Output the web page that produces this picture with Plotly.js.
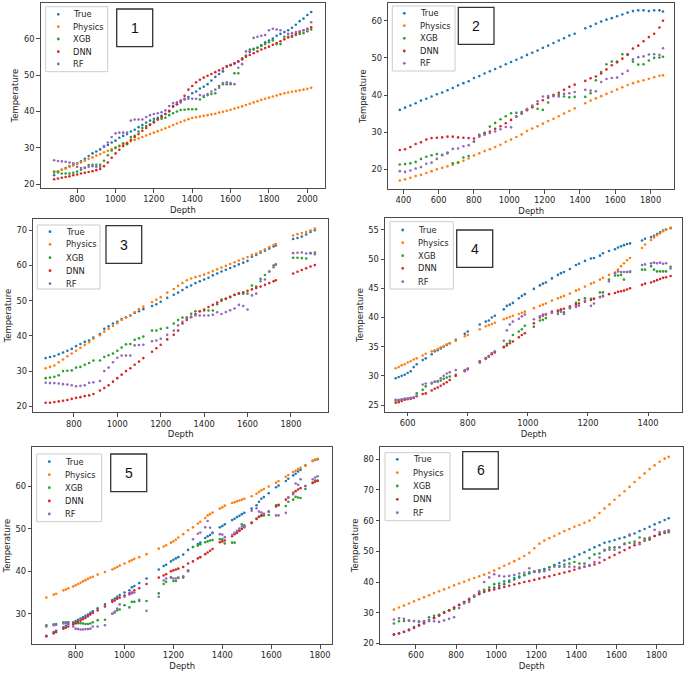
<!DOCTYPE html>
<html><head><meta charset="utf-8">
<script src="https://cdn.plot.ly/plotly-3.0.1.min.js"></script>
<style>body{margin:0;padding:0;background:#fff}</style>
</head><body><div id="chart" style="width:685px;height:674px"></div>
<script>
const seriesNames = ['True','Physics','XGB','DNN','RF'];
const seriesColors = ['#1f77b4','#ff7f0e','#2ca02c','#d62728','#9467bd'];
const panelLabels = ['1','2','3','4','5','6'];
const xTitle = 'Depth';
const yTitle = 'Temperature';

// ---------- Panel 1 ----------
const depth1 = [680,700,720,740,760,780,800,820,840,860,880,900,920,940,960,980,1000,1020,1040,1060,1080,1100,1120,1140,1160,1180,1200,1220,1240,1260,1280,1300,1320,1340,1360,1380,1400,1420,1440,1460,1480,1500,1520,1540,1560,1580,1600,1620,1640,1660,1680,1700,1720,1740,1760,1780,1800,1820,1840,1860,1880,1900,1920,1940,1960,1980,2000,2020];
const true1 = [22.5,23.5,24.0,24.5,25.0,25.3,25.8,26.3,27.0,27.8,28.5,29.0,29.6,30.3,30.8,31.5,32.0,32.8,33.3,33.8,34.5,35.0,35.7,36.3,37.0,37.5,38.0,38.3,38.8,39.3,40.0,41.5,42.0,42.7,43.3,44.0,45.0,45.5,46.3,46.8,47.5,48.5,49.5,50.3,51.0,52.5,52.8,53.2,53.8,54.5,55.3,56.3,57.0,57.5,58.2,59.0,59.5,60.0,60.8,61.3,61.8,62.3,63.0,63.8,64.8,65.5,66.5,67.3];
const physics1 = [23.2,23.6,24.0,24.3,24.8,25.2,25.6,26.0,26.5,27.0,27.4,27.9,28.3,28.8,29.2,29.7,30.2,30.6,31.0,31.4,31.8,32.2,32.6,33.0,33.4,33.8,34.2,34.6,35.0,35.4,35.8,36.3,36.7,37.1,37.5,37.9,38.2,38.4,38.6,38.8,39.0,39.2,39.4,39.7,39.9,40.2,40.5,40.8,41.1,41.4,41.8,42.1,42.5,42.8,43.2,43.5,43.8,44.1,44.4,44.7,45.0,45.2,45.4,45.6,45.8,46.0,46.2,46.5];
const xgb1 = [23.5,23.3,23.0,23.0,23.0,23.2,23.5,24.0,24.5,25.3,25.4,25.4,25.4,26.5,28.0,29.3,30.0,30.5,31.3,31.0,33.0,33.3,34.5,35.5,36.0,36.5,37.3,37.8,38.0,38.3,39.0,39.5,40.0,40.4,40.5,40.6,40.6,40.6,43.3,44.0,44.5,44.8,45.0,47.0,47.5,47.5,47.5,50.5,50.5,54.5,55.3,57.0,57.2,57.5,58.0,58.5,59.0,59.5,58.5,58.5,60.5,60.5,60.5,61.0,61.3,61.5,62.0,62.5];
const dnn1 = [21.4,21.6,21.8,22.0,22.2,22.5,22.7,23.0,23.2,23.4,23.6,23.9,24.2,25.0,26.0,27.3,28.5,29.5,30.5,31.3,32.2,33.0,33.8,34.7,35.5,36.3,37.0,37.8,38.5,39.3,40.2,41.3,42.0,43.0,44.3,46.0,47.0,48.0,48.7,49.3,49.8,50.3,50.8,51.3,51.8,52.3,52.7,53.2,53.7,54.3,55.0,55.5,56.0,56.5,57.0,57.4,57.8,58.3,58.8,59.3,59.8,60.3,60.8,61.3,61.8,62.3,62.7,63.1];
const rf1 = [26.6,26.4,26.3,26.2,26.0,25.8,24.8,24.5,24.6,24.8,25.0,24.8,24.8,30.5,31.5,33.0,34.0,34.2,34.2,34.2,37.5,37.8,37.8,37.8,38.5,39.0,39.3,39.5,39.8,40.3,41.5,42.3,42.5,42.5,43.5,43.5,43.5,43.5,44.5,44.3,44.8,45.5,46.0,46.5,47.8,48.0,47.8,47.5,52.0,53.0,56.5,56.5,60.2,60.5,60.8,61.0,62.3,62.7,62.5,62.3,61.8,61.3,61.5,61.8,62.0,62.3,62.5,64.5];

// ---------- Panel 2 ----------
const depth2 = [380,410,440,470,500,530,560,590,620,650,680,710,740,770,800,830,860,890,920,950,980,1010,1040,1070,1100,1130,1160,1190,1220,1250,1280,1310,1340,1370,1400,1430,1460,1490,1520,1550,1580,1610,1640,1670,1700,1730,1760,1790,1820,1850,1870];
const true2 = [36.0,36.6,37.2,37.8,38.5,39.0,39.6,40.2,40.7,41.3,41.9,42.6,43.2,43.7,44.6,45.1,45.8,46.4,47.0,47.6,48.3,48.9,49.5,50.1,50.8,51.4,52.0,52.7,53.3,54.0,54.7,55.3,56.0,56.5,null,58.0,58.5,59.2,59.8,60.3,60.7,61.2,61.7,62.2,62.6,62.8,62.8,62.6,62.8,62.8,62.5];
const physics2 = [17.0,17.3,17.7,18.2,18.5,19.0,19.5,20.0,20.4,20.8,21.2,21.7,22.3,22.9,23.7,24.3,24.9,25.4,26.0,26.6,27.4,28.0,28.7,29.4,30.3,31.0,31.6,32.3,33.0,33.6,34.3,35.0,35.7,36.4,null,37.8,38.5,39.1,39.7,40.3,40.9,41.5,42.1,42.7,43.2,43.6,44.0,44.4,44.8,45.2,45.3];
const xgb2 = [21.3,21.4,21.6,22.0,22.8,23.4,23.8,24.1,23.9,24.3,21.6,21.9,23.2,23.6,27.5,29.3,29.8,31.5,32.5,33.5,34.3,35.1,35.2,35.4,36.2,36.7,36.3,36.0,38.0,40.0,40.0,39.6,39.4,39.5,null,39.5,40.5,44.0,46.2,48.3,49.0,49.0,51.0,50.8,49.0,48.2,48.3,49.3,50.0,50.1,50.3];
const dnn2 = [25.2,25.4,26.0,26.8,27.3,28.0,28.4,28.5,28.6,28.8,28.8,28.6,28.5,28.4,28.3,29.0,29.6,30.2,30.9,31.6,32.4,33.3,34.2,35.0,35.9,36.8,37.6,38.6,39.3,40.0,40.6,41.4,42.2,42.8,null,43.8,44.5,45.0,45.8,46.9,48.0,48.8,49.8,51.0,52.5,53.3,54.5,55.6,56.5,58.2,60.0];
const rf2 = [19.5,19.3,19.7,20.2,20.6,21.5,21.8,22.8,23.8,24.5,25.5,25.6,26.2,26.5,27.5,28.8,29.3,29.8,30.2,30.8,31.4,31.3,34.2,35.0,36.2,37.2,38.3,39.6,39.7,39.7,39.6,40.3,40.5,40.8,null,41.4,41.2,41.0,43.5,44.3,44.6,44.7,45.7,46.5,49.6,50.2,50.4,50.9,51.0,50.8,52.6];

// ---------- Panel 3 ----------
const depth3 = [670,690,710,730,750,770,790,810,830,850,870,890,920,940,960,980,1000,1020,1040,1060,1080,1100,1120,1160,1180,1200,1230,1260,1280,1300,1320,1340,1360,1380,1400,1420,1440,1460,1480,1500,1520,1540,1560,1580,1600,1620,1640,1660,1680,1700,1720,1730,1810,1830,1850,1870,1890,1910];
const true3 = [33.7,34.0,34.3,34.8,35.3,35.8,36.3,37.1,37.7,38.3,38.7,39.5,40.5,42.0,42.7,43.5,44.0,44.8,45.3,45.8,46.5,47.0,47.6,48.5,49.0,49.7,50.8,51.7,52.3,53.0,53.8,54.3,55.0,55.5,56.0,56.5,57.2,57.7,58.3,58.8,59.3,59.8,60.3,60.8,61.3,62.5,63.0,63.6,64.2,64.8,65.4,65.7,67.5,67.8,68.2,68.8,69.5,70.0];
const physics3 = [30.8,31.2,31.6,32.5,33.3,34.2,35.0,35.8,36.6,37.4,38.2,39.2,40.2,41.2,42.0,42.8,43.6,44.5,45.2,45.8,46.8,47.6,48.3,49.6,50.3,51.0,52.3,53.3,54.2,55.0,55.8,56.3,56.7,57.0,57.4,57.9,58.4,58.9,59.4,59.9,60.4,60.9,61.4,61.9,62.4,63.0,63.4,64.0,64.6,65.2,65.8,66.1,68.5,68.9,69.2,69.5,70.0,70.5];
const xgb3 = [28.0,28.2,28.4,28.8,30.0,30.1,30.2,31.0,31.2,31.8,32.3,33.0,33.0,34.0,34.5,35.0,35.8,36.7,37.6,37.7,38.9,39.3,39.8,41.5,41.5,42.0,42.3,43.5,44.5,45.2,45.3,46.3,47.0,47.0,47.2,47.2,47.2,49.0,50.3,50.5,51.0,51.7,52.0,52.0,52.0,54.3,54.0,56.2,57.3,58.3,60.0,60.3,62.2,62.2,62.1,62.0,63.5,63.7];
const dnn3 = [21.0,21.0,21.2,21.4,21.6,21.8,22.1,22.4,22.6,22.9,23.1,23.5,24.5,25.2,26.0,27.0,28.0,29.0,30.0,30.8,31.8,32.7,33.7,35.5,36.5,37.5,39.0,40.3,41.5,43.5,44.5,45.3,46.2,47.0,47.5,48.2,48.8,49.5,50.0,50.6,51.1,51.6,52.1,52.4,52.8,53.2,53.6,54.0,54.5,55.0,55.5,55.8,57.7,58.2,58.7,59.2,59.7,60.1];
const rf3 = [26.7,26.6,26.6,26.5,26.3,26.2,26.0,25.7,25.8,26.0,26.7,26.8,27.2,30.0,31.0,32.5,33.8,34.4,34.4,34.4,37.3,37.4,37.5,38.5,38.7,39.2,40.3,41.5,43.0,44.0,45.0,45.5,45.8,45.8,45.8,45.8,46.0,46.7,46.2,46.8,47.3,47.8,48.8,48.5,47.5,51.5,52.0,55.5,56.0,58.3,59.5,60.2,63.5,63.6,63.7,63.4,63.5,63.2];

// ---------- Panel 4 ----------
const depth4 = [560,570,580,590,600,610,620,630,650,660,680,690,700,710,720,730,740,760,790,800,840,860,870,880,890,920,930,940,950,970,980,990,1020,1040,1050,1060,1080,1100,1110,1120,1140,1160,1170,1190,1210,1220,1240,1250,1270,1290,1300,1310,1320,1330,1340,1380,1390,1410,1420,1430,1440,1450,1460,1475];
const true4 = [29.6,29.8,30.0,30.2,30.5,30.8,31.5,32.0,32.7,33.0,33.7,34.2,34.4,34.7,35.0,35.3,35.6,36.2,37.2,37.6,38.8,39.3,39.5,40.0,40.3,41.4,42.0,42.2,42.5,43.3,43.7,44.0,44.9,45.5,45.8,46.0,46.7,47.3,47.6,47.8,48.3,49.0,49.2,49.7,50.1,50.2,50.6,51.0,51.4,51.7,52.0,52.2,52.4,52.6,52.7,53.2,53.5,53.8,54.0,54.3,54.6,54.9,55.1,55.3];
const physics4 = [31.3,31.5,31.8,32.0,32.3,32.5,32.8,33.0,33.5,33.8,34.2,34.4,34.6,34.9,35.1,35.4,35.6,36.0,36.8,37.0,38.0,38.5,38.7,38.9,39.1,39.7,39.9,40.1,40.3,40.6,40.8,41.0,41.6,42.0,42.2,42.4,42.9,43.3,43.5,43.7,44.1,44.6,44.8,45.3,45.8,46.0,46.5,46.8,47.3,47.7,48.2,48.8,49.3,49.8,50.2,51.9,52.5,53.3,53.7,54.1,54.4,54.8,55.1,55.4];
const xgb4 = [25.8,25.8,25.9,26.0,26.1,26.2,26.3,27.0,27.6,28.2,28.7,29.0,29.0,29.2,29.5,29.7,29.9,30.2,31.0,31.2,32.3,33.0,33.4,33.8,34.1,35.0,35.5,36.0,37.0,37.6,38.0,38.6,38.4,39.5,39.6,39.9,40.8,41.0,41.2,40.9,41.6,42.5,43.0,43.3,43.2,43.2,44.3,44.3,46.5,47.2,47.2,47.3,46.5,47.8,47.8,48.2,48.2,48.8,48.2,47.9,47.9,47.9,47.9,48.7];
const dnn4 = [25.4,25.5,25.7,25.9,26.0,26.1,26.2,26.5,26.9,27.0,27.5,27.8,28.0,28.3,28.6,28.9,29.3,30.0,30.8,31.2,32.5,33.0,33.3,33.7,34.0,34.9,35.2,35.6,35.9,36.6,37.0,37.3,39.0,40.0,40.3,40.5,41.0,41.2,41.4,41.5,41.9,42.2,42.4,42.7,43.0,43.2,43.5,43.7,44.0,44.2,44.4,44.5,44.6,44.8,45.0,45.6,45.8,46.0,46.2,46.4,46.6,46.8,46.9,47.1];
const rf4 = [25.9,25.9,26.0,26.1,26.1,26.2,26.3,26.6,28.5,28.7,28.8,29.0,29.1,29.6,30.0,30.4,30.6,31.0,30.9,31.1,32.3,32.9,33.3,33.9,34.2,36.0,37.8,38.8,39.3,39.8,40.2,40.5,39.7,40.2,40.5,40.6,40.8,40.6,41.0,40.6,41.7,41.8,42.0,42.9,42.0,42.4,43.5,43.6,46.2,47.6,47.9,47.8,47.8,47.8,47.9,49.0,49.1,49.3,49.4,49.3,49.4,49.2,49.3,48.4];

// ---------- Panel 5 ----------
const depth5 = [680,710,720,750,760,770,790,800,810,820,830,840,850,860,870,890,920,950,960,970,980,1000,1020,1030,1040,1060,1090,1140,1160,1170,1190,1200,1210,1220,1240,1260,1280,1300,1310,1330,1340,1350,1360,1390,1400,1410,1440,1450,1460,1470,1480,1490,1520,1540,1550,1560,1570,1590,1620,1630,1660,1670,1690,1700,1710,1720,1740,1770,1780,1790];
const true5 = [24.8,25.7,26.0,26.8,27.2,27.6,28.0,28.3,28.6,28.9,29.2,29.5,29.8,30.2,30.6,31.3,32.2,33.2,33.6,34.0,34.4,35.0,35.5,36.2,36.5,37.2,38.3,40.4,41.2,41.5,42.3,42.7,43.0,43.3,43.9,45.0,45.7,46.4,46.7,47.8,48.2,48.5,49.0,50.3,50.6,51.0,52.0,52.3,52.7,53.0,53.4,53.7,54.7,55.5,56.3,57.0,57.4,58.3,59.7,60.1,61.2,61.7,62.5,62.9,63.4,63.8,64.8,65.9,66.1,66.3];
const physics5 = [33.8,34.5,34.7,35.5,35.7,36.0,36.4,36.7,37.0,37.3,37.6,37.9,38.2,38.5,38.7,39.2,39.8,40.4,40.7,41.0,41.3,41.8,42.3,42.6,42.9,43.3,44.0,45.3,45.8,46.1,46.7,47.0,47.4,47.9,48.7,49.6,50.3,51.2,51.6,52.5,53.1,53.4,53.8,54.7,55.0,55.4,56.0,56.2,56.4,56.6,56.8,57.0,57.6,58.2,58.6,59.0,59.3,59.9,60.8,61.2,62.2,62.6,63.3,63.6,64.0,64.3,64.9,65.9,66.2,66.4];
const xgb5 = [27.3,27.5,27.6,28.0,28.0,28.0,27.8,27.8,27.8,27.8,27.7,27.6,27.6,27.7,28.0,28.5,28.6,30.0,30.3,30.8,31.0,32.0,31.5,32.8,32.8,33.0,33.0,34.8,37.0,37.5,38.5,37.7,37.7,38.5,38.5,40.0,45.7,46.0,46.3,46.8,47.0,47.2,47.3,47.5,47.5,46.5,46.7,46.7,49.0,49.5,51.0,50.8,51.3,52.3,52.8,53.0,53.1,53.2,55.5,55.5,55.3,56.3,56.8,57.5,57.3,57.2,59.3,60.8,61.3,61.3];
const dnn5 = [24.7,25.4,25.7,26.5,26.7,27.0,27.5,27.8,28.1,28.4,28.7,29.0,29.4,29.8,30.2,30.8,31.7,32.8,33.1,33.5,33.8,34.3,34.8,35.0,35.5,36.0,37.0,38.5,39.0,39.3,40.0,40.2,40.4,40.6,41.0,41.8,42.3,43.0,43.3,44.0,44.4,44.8,45.2,46.8,47.0,47.2,48.2,48.7,49.1,49.5,49.9,50.3,51.4,52.3,52.8,53.1,53.4,54.0,55.2,55.6,56.8,57.3,58.4,58.8,59.2,59.5,60.0,60.7,61.0,61.2];
const rf5 = [27.0,27.3,27.4,27.7,27.8,28.0,27.0,26.5,26.4,26.3,26.3,26.4,26.4,26.5,27.0,27.0,27.3,30.0,30.5,31.2,32.2,34.0,34.5,34.8,35.0,33.3,30.7,34.0,37.8,38.3,38.6,38.3,38.3,38.4,38.8,40.2,47.5,48.8,49.1,50.3,51.8,50.2,49.0,48.7,48.6,48.0,48.5,49.0,49.5,50.0,50.5,50.5,54.2,54.8,54.0,53.8,53.5,54.0,53.1,53.1,53.7,57.3,58.1,60.6,60.3,61.6,60.0,61.6,62.0,62.3];

// ---------- Panel 6 ----------
const depth6 = [490,515,540,565,590,615,640,665,690,715,740,765,790,815,840,865,890,915,940,965,990,1015,1040,1065,1090,1115,1140,1165,1190,1215,1240,1265,1290,1315,1340,1365,1390,1415,1440,1465,1490,1515,1540,1565,1590,1615,1640,1665,1690,1715,1740,1765,1790,1815,1840,1860];
const true6 = [22.8,23.3,23.8,24.5,25.3,26.0,26.8,27.6,28.4,29.2,30.0,30.8,31.6,32.5,33.4,34.3,35.2,36.0,36.8,37.5,38.2,38.8,39.3,40.0,40.8,41.5,42.2,42.8,43.3,43.8,44.2,44.8,45.5,46.2,47.0,47.5,48.2,49.0,49.7,50.5,51.3,52.0,52.8,53.2,53.7,54.2,54.6,55.2,55.8,56.6,57.3,58.0,58.8,59.5,60.2,60.8];
const physics6 = [31.0,31.7,32.3,33.0,33.7,34.4,35.0,35.7,36.4,37.0,37.6,38.2,38.9,39.5,40.1,40.7,41.3,41.9,42.4,43.0,43.7,44.5,45.3,46.0,46.8,47.6,48.5,49.5,51.0,52.5,53.5,54.3,55.0,55.8,56.6,57.3,58.0,58.6,59.3,60.0,61.0,62.5,64.0,65.3,66.8,68.2,69.6,71.0,72.6,74.0,75.4,76.8,78.0,79.2,80.2,80.8];
const xgb6 = [26.5,27.2,27.3,27.4,27.3,27.0,27.3,28.5,29.0,29.3,30.2,30.7,31.2,32.5,33.5,34.0,35.3,36.5,37.5,38.2,39.3,39.5,40.2,40.5,41.3,41.8,42.3,43.2,43.5,43.7,44.0,44.8,45.5,45.0,45.7,46.0,46.5,46.0,46.0,47.8,49.0,49.3,50.5,51.2,51.3,51.3,52.5,52.8,53.2,54.5,54.2,53.8,55.0,55.5,56.0,56.2];
const dnn6 = [23.0,23.2,23.7,24.3,25.0,25.8,26.5,27.3,28.2,29.0,30.0,30.8,31.7,32.6,33.5,34.5,35.5,36.3,36.8,37.2,37.6,38.0,38.4,38.8,39.2,39.6,40.0,40.3,40.7,41.1,41.5,41.9,42.3,42.7,43.1,43.5,44.0,44.5,45.0,45.3,45.7,46.3,47.2,48.0,48.8,49.6,50.4,51.2,52.0,52.8,53.5,54.2,55.0,55.6,56.2,56.8];
const rf6 = [27.8,28.2,28.0,27.5,27.3,27.2,27.2,27.3,27.2,27.0,27.5,28.0,28.5,31.5,33.0,33.5,35.5,37.0,40.0,41.5,42.5,42.0,41.8,42.0,42.3,42.8,43.0,44.5,43.5,43.3,43.5,44.0,45.0,45.2,45.0,45.0,45.0,44.8,45.0,45.5,46.5,48.0,50.2,50.5,50.5,51.3,52.3,55.5,52.5,52.3,53.5,54.5,57.0,56.3,56.5,56.8];

const panelData = [
  {depth: depth1, series: [true1, physics1, xgb1, dnn1, rf1]},
  {depth: depth2, series: [true2, physics2, xgb2, dnn2, rf2]},
  {depth: depth3, series: [true3, physics3, xgb3, dnn3, rf3]},
  {depth: depth4, series: [true4, physics4, xgb4, dnn4, rf4]},
  {depth: depth5, series: [true5, physics5, xgb5, dnn5, rf5]},
  {depth: depth6, series: [true6, physics6, xgb6, dnn6, rf6]}
];

// ---------- Layout geometry (pixels) ----------
const W = 685, H = 674;
const axesGeom = [
  {x:[40.7,325],  y:[3.3,188],   xr:[610,2092],  yr:[19.0,69.7], xd:200, x0:800, yd:10, y0:20},
  {x:[388.3,674.3], y:[3.3,189], xr:[315,1934],  yr:[14.7,64.7], xd:200, x0:400, yd:10, y0:20},
  {x:[33.3,328.3], y:[219,412.3], xr:[613,1972], yr:[18.3,73.2], xd:200, x0:800, yd:10, y0:20},
  {x:[385,682.3], y:[218.3,411.7], xr:[524.5,1514], yr:[23.86,57.0], xd:200, x0:600, yd:5, y0:25},
  {x:[32.3,332.3], y:[447.3,644], xr:[622.6,1850], yr:[22.9,69.1], xd:200, x0:800, yd:10, y0:30},
  {x:[380,683.3], y:[446.7,644], xr:[420.5,1933], yr:[19.8,84.1], xd:200, x0:600, yd:10, y0:20}
];
const legendGeom = [
  {box:[45.7,6.7,107.7,71.7], mx:58.3, tx:73.3, rows:[14.3,26.7,39,51.7,64]},
  {box:[392.3,6,455,71], mx:404.3, tx:420, rows:[13.3,25.7,38.3,51,63.3]},
  {box:[37.3,225,100,289], mx:50, tx:65.7, rows:[231.7,244.3,257.7,270.7,283.7]},
  {box:[390,221.7,453.3,289], mx:402.7, tx:418.3, rows:[230,242.7,255.7,268.3,281.7]},
  {box:[36.7,454,101.7,521.7], mx:49.3, tx:65, rows:[461.7,474.7,487.7,501,514]},
  {box:[385,452.7,450,520.7], mx:397.3, tx:413.3, rows:[459.3,472.7,486,499.3,512.7]}
];
const numBoxGeom = [
  [116.7,9,152.7,46.7],
  [458.3,7.3,494,44.3],
  [106,225.7,141.7,263.3],
  [456.7,230,492.7,267.3],
  [110.7,454,146.7,491.7],
  [462.7,451.7,498.3,489]
];

const px = v => v / W;
const py = v => 1 - v / H;
const FONT = 'DejaVu Sans, Arial, sans-serif';
const FS = 8.3;

const traces = [];
const layout = {
  width: W, height: H,
  margin: {l:0, r:0, t:0, b:0},
  paper_bgcolor: '#fff', plot_bgcolor: '#fff',
  showlegend: false,
  font: {family: FONT, size: FS, color: '#262626'},
  shapes: [], annotations: []
};

panelData.forEach((p, i) => {
  const n = i + 1;
  const xa = 'x' + (n === 1 ? '' : n), ya = 'y' + (n === 1 ? '' : n);
  p.series.forEach((vals, s) => {
    traces.push({
      type: 'scatter', mode: 'markers', x: p.depth, y: vals,
      name: seriesNames[s], xaxis: xa, yaxis: ya,
      marker: {color: seriesColors[s], size: 2.6},
      hoverinfo: 'x+y+name'
    });
  });
  const g = axesGeom[i];
  const common = {
    showline: true, mirror: true, linecolor: '#4a4a4a', linewidth: 1,
    ticks: 'outside', ticklen: 3.5, tickwidth: 1, tickcolor: '#4a4a4a',
    showgrid: false, zeroline: false,
    tickfont: {family: FONT, size: FS, color: '#262626'}
  };
  layout['xaxis' + (n === 1 ? '' : n)] = Object.assign({}, common, {
    domain: [px(g.x[0]), px(g.x[1])], anchor: ya, range: g.xr,
    tick0: g.x0, dtick: g.xd,
    title: {text: xTitle, font: {family: FONT, size: FS + 0.2, color: '#262626'}, standoff: 3}
  });
  layout['yaxis' + (n === 1 ? '' : n)] = Object.assign({}, common, {
    domain: [py(g.y[1]), py(g.y[0])], anchor: xa, range: g.yr,
    tick0: g.y0, dtick: g.yd,
    title: {text: yTitle, font: {family: FONT, size: FS + 0.2, color: '#262626'}, standoff: 3}
  });

  // legend
  const L = legendGeom[i];
  layout.shapes.push({type: 'rect', xref: 'paper', yref: 'paper',
    x0: px(L.box[0]), x1: px(L.box[2]), y0: py(L.box[3]), y1: py(L.box[1]),
    line: {color: '#cccccc', width: 1}, fillcolor: 'rgba(255,255,255,0.8)', layer: 'above'});
  seriesNames.forEach((nm, s) => {
    const r = 1.4;
    layout.shapes.push({type: 'circle', xref: 'paper', yref: 'paper',
      x0: px(L.mx - r), x1: px(L.mx + r), y0: py(L.rows[s] + r), y1: py(L.rows[s] - r),
      fillcolor: seriesColors[s], line: {width: 0}, layer: 'above'});
    layout.annotations.push({xref: 'paper', yref: 'paper', x: px(L.tx - 2), y: py(L.rows[s]),
      xanchor: 'left', yanchor: 'middle', showarrow: false, text: nm,
      font: {family: FONT, size: FS, color: '#262626'}});
  });

  // panel number box
  const B = numBoxGeom[i];
  layout.shapes.push({type: 'rect', xref: 'paper', yref: 'paper',
    x0: px(B[0]), x1: px(B[2]), y0: py(B[3]), y1: py(B[1]),
    line: {color: '#333', width: 1.3}, fillcolor: '#fff', layer: 'above'});
  layout.annotations.push({xref: 'paper', yref: 'paper', x: px((B[0] + B[2]) / 2), y: py((B[1] + B[3]) / 2),
    xanchor: 'center', yanchor: 'middle', showarrow: false, text: panelLabels[i],
    font: {family: 'Liberation Sans, Arial, sans-serif', size: 14, color: '#111'}});
});

Plotly.newPlot('chart', traces, layout, {displayModeBar: false, staticPlot: true});
</script>
</body></html>
